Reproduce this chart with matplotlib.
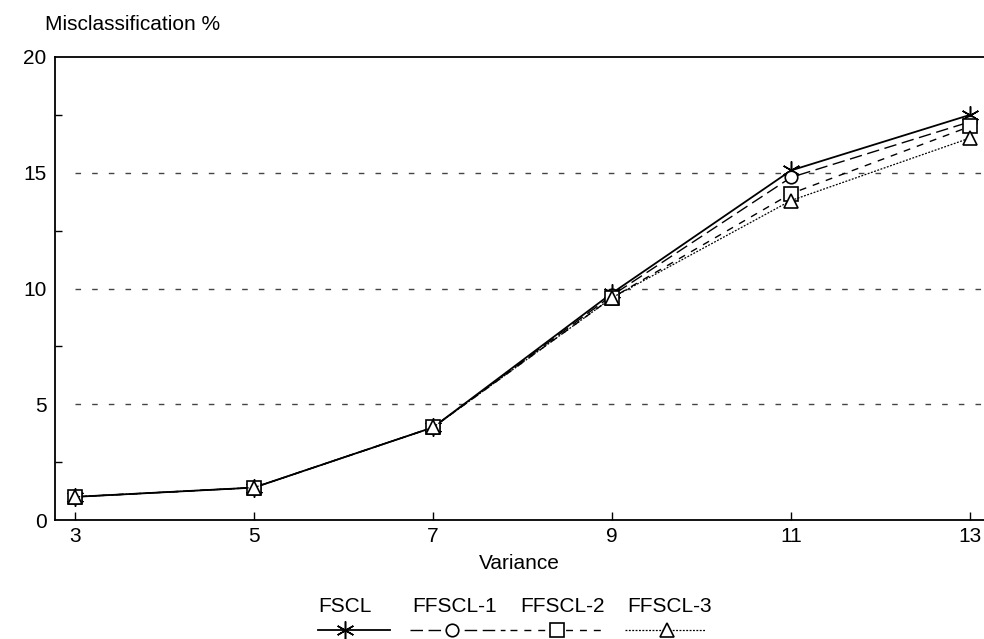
import matplotlib.pyplot as plt
from matplotlib import rcParams
from matplotlib.lines import Line2D
import numpy as np

rcParams['font.family'] = 'sans-serif'
rcParams['font.sans-serif'] = ['Liberation Sans']
rcParams['font.size'] = 15

variance = [3, 5, 7, 9, 11, 13]
fscl = [1.0, 1.4, 4.0, 9.8, 15.1, 17.5]
ffscl1 = [1.0, 1.4, 4.0, 9.7, 14.8, 17.2]
ffscl2 = [1.0, 1.4, 4.0, 9.6, 14.1, 17.0]
ffscl3 = [1.0, 1.4, 4.0, 9.6, 13.8, 16.5]
names = ['FSCL', 'FFSCL-1', 'FFSCL-2', 'FFSCL-3']

styles = [
    dict(ls='-', lw=1.3, marker=(6, 2, 0), ms=13, mew=1.1),
    dict(ls=(0, (9, 4)), lw=1.0, marker='o', ms=9, mew=1.2),
    dict(ls=(0, (5, 5)), lw=1.0, marker='s', ms=10, mew=1.2),
    dict(ls=(0, (1.5, 1.2)), lw=0.9, marker='^', ms=10, mew=1.2),
]

fig = plt.figure(figsize=(9.84, 6.39), dpi=100)
ax = fig.add_axes([55 / 984, 1 - 520 / 639, 929 / 984, 463 / 639])

for vals, st in zip([fscl, ffscl1, ffscl2, ffscl3], styles):
    ax.plot(variance, vals, color='black', mfc='white', mec='black', **st)

# dashed reference lines
for yv in [5, 10, 15]:
    ax.plot([3, 13.15], [yv, yv], color='#444444', lw=1.0, ls=(0, (4, 8)), zorder=0)

ax.set_xlim(2.777, 13.156)
ax.set_ylim(0, 20)
ax.set_xticks(variance)
ax.set_yticks([0, 5, 10, 15, 20])
ax.set_yticks([2.5, 7.5, 12.5, 17.5], minor=True)
ax.tick_params(axis='x', direction='in', length=6, width=1, pad=5)
ax.tick_params(axis='y', which='major', direction='in', length=0, pad=6)
ax.tick_params(axis='y', which='minor', direction='in', length=5, width=1)
ax.spines['right'].set_visible(False)
for s in ['left', 'bottom', 'top']:
    ax.spines[s].set_linewidth(1.3)

ax.set_xlabel('Variance', labelpad=6)
fig.text(45 / 984, 1 - 25 / 639, 'Misclassification %', va='center', ha='left')

# legend: label above a short line sample
label_x = [345, 455, 563, 670]
line_x = [(318, 390), (410, 505), (510, 605), (625, 705)]
mark_x = [345, 452, 557, 667]
for name, st, lx, (x0, x1), mx in zip(names, styles, label_x, line_x, mark_x):
    fig.text(lx / 984, 1 - 606 / 639, name, ha='center', va='center')
    yl = 1 - 630 / 639
    fig.add_artist(Line2D([x0 / 984, x1 / 984], [yl, yl], color='black',
                          ls=st['ls'], lw=st['lw'], transform=fig.transFigure))
    fig.add_artist(Line2D([mx / 984], [yl], color='black', ls='none', marker=st['marker'],
                          ms=st['ms'], mew=st['mew'], mfc='white', mec='black',
                          transform=fig.transFigure))

fig.savefig('out.png', dpi=100)
